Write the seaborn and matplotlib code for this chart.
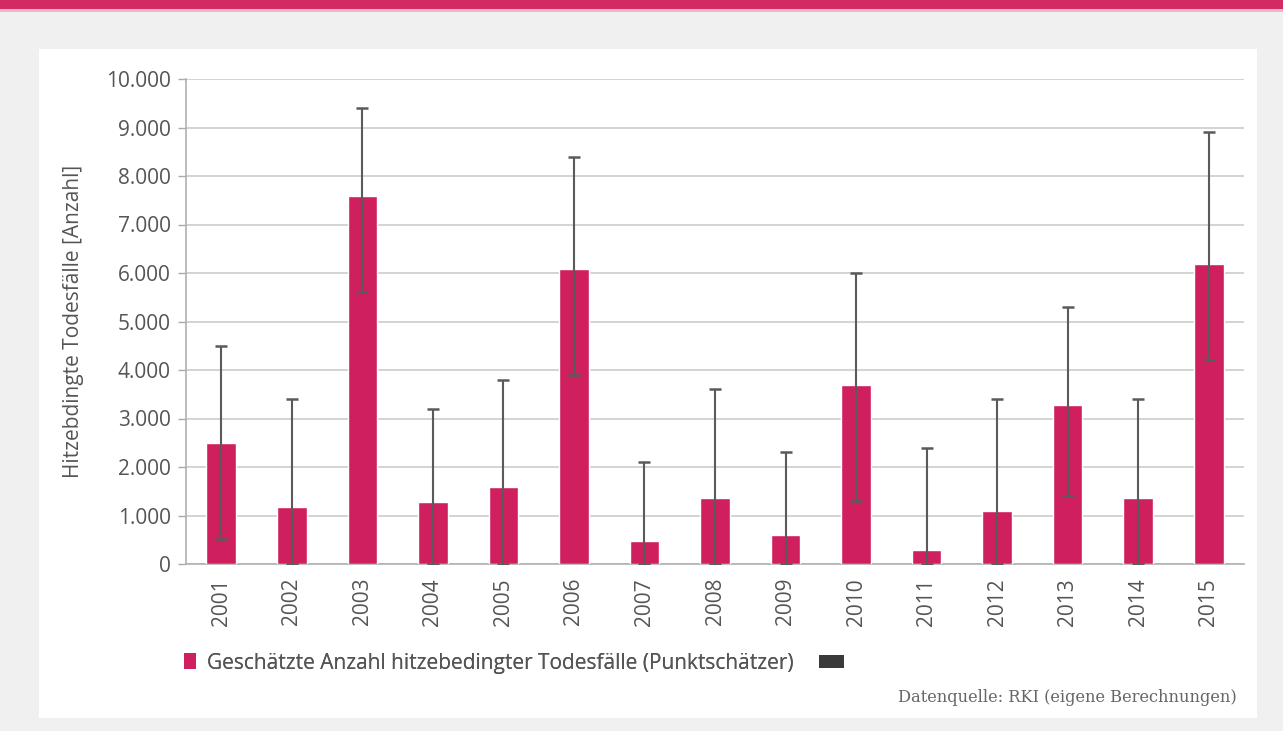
import numpy as np
import pandas as pd
import matplotlib
matplotlib.use('Agg')
import matplotlib.pyplot as plt
import seaborn as sns
from matplotlib.patches import Rectangle, Patch
from matplotlib.ticker import FuncFormatter, FixedLocator

# Daten
jahre = ['2001', '2002', '2003', '2004', '2005', '2006', '2007', '2008',
         '2009', '2010', '2011', '2012', '2013', '2014', '2015']
todesfaelle = [2490, 1170, 7580, 1280, 1590, 6080, 470, 1370,
               590, 3690, 290, 1090, 3270, 1370, 6180]
untere_grenze = [520, 0, 5600, 0, 0, 3900, 0, 0,
                 0, 1300, 0, 0, 1400, 0, 4200]
obere_grenze = [4500, 3400, 9400, 3200, 3800, 8400, 2100, 3600,
                2300, 6000, 2400, 3400, 5300, 3400, 8900]

df = pd.DataFrame({'Jahr': jahre, 'Anzahl': todesfaelle,
                   'unten': untere_grenze, 'oben': obere_grenze})

pink = '#d01f5e'
grau = '#5a5a5a'

sns.set_theme(style='white')
plt.rcParams['font.family'] = ['Open Sans', 'DejaVu Sans']

fig = plt.figure(figsize=(12.83, 7.31), dpi=100)
fig.patch.set_facecolor('#f0f0f0')

# weißes Panel und pinker Streifen oben
fig.patches.append(Rectangle((39 / 1283, 1 - 718 / 731), (1257 - 39) / 1283, (718 - 49) / 731,
                             transform=fig.transFigure, facecolor='white', edgecolor='none', zorder=-2))
fig.patches.append(Rectangle((0, 1 - 9 / 731), 1, 9 / 731,
                             transform=fig.transFigure, facecolor='#d42a64', edgecolor='none', zorder=-2))
fig.patches.append(Rectangle((0, 1 - 12 / 731), 1, 3 / 731,
                             transform=fig.transFigure, facecolor='#efb6c8', edgecolor='none', zorder=-2))

ax = fig.add_axes([186 / 1283, 1 - 564 / 731, (1244 - 186) / 1283, (564 - 79) / 731])
ax.set_facecolor('none')

sns.barplot(data=df, x='Jahr', y='Anzahl', color=pink, width=0.42,
            saturation=1, ax=ax, zorder=3)

pos = np.arange(len(jahre))
yerr = [df['Anzahl'] - df['unten'], df['oben'] - df['Anzahl']]
ax.errorbar(pos, df['Anzahl'], yerr=yerr, fmt='none', ecolor=grau,
            elinewidth=1.5, capsize=4, capthick=1.8, zorder=4)

ax.set_ylim(0, 10000)
ax.set_xlim(-0.5, len(jahre) - 0.5)
ax.set_yticks(np.arange(0, 10001, 1000))
ax.yaxis.set_major_formatter(FuncFormatter(lambda v, p: f'{int(v):,}'.replace(',', '.')))
ax.yaxis.grid(True, color='#cccccc', linewidth=1.2, zorder=0)
ax.set_axisbelow(True)

ax.xaxis.set_minor_locator(FixedLocator(np.arange(-0.5, len(jahre), 1)))
ax.tick_params(axis='x', which='major', length=0, pad=10, labelsize=15,
               labelcolor='#555555', labelrotation=90)
ax.tick_params(axis='x', which='minor', length=6, width=1, color='#aaaaaa', direction='out')
ax.tick_params(axis='y', length=6, width=1, color='#aaaaaa', labelsize=15,
               labelcolor='#555555', pad=5, left=True)

for s in ['top', 'right']:
    ax.spines[s].set_visible(False)
for s in ['left', 'bottom']:
    ax.spines[s].set_color('#b0b0b0')
    ax.spines[s].set_linewidth(1.2)

ax.set_xlabel('')
ax.set_ylabel('Hitzebdingte Todesfälle [Anzahl]', fontsize=15, color='#555555', labelpad=16)

# Legende
leg1 = fig.legend([Patch(facecolor=pink, edgecolor='none')],
                  ['Geschätzte Anzahl hitzebedingter Todesfälle (Punktschätzer)'],
                  loc='center left', bbox_to_anchor=(165 / 1283, 1 - 663 / 731),
                  frameon=False, fontsize=15, handlelength=0.6, handleheight=0.8,
                  handletextpad=0.5, labelcolor='#555555')
fig.add_artist(leg1)
fig.legend([Patch(facecolor='#3a3a3a', edgecolor='none')], [''],
           loc='center left', bbox_to_anchor=(800 / 1283, 1 - 663 / 731),
           frameon=False, fontsize=15, handlelength=1.2, handleheight=0.6)

fig.text(1237 / 1283, 1 - 697 / 731, 'Datenquelle: RKI (eigene Berechnungen)',
         ha='right', va='center', fontsize=11.7, color='#666666', family='DejaVu Serif')

fig.savefig('out.png', dpi=100, facecolor=fig.get_facecolor())
